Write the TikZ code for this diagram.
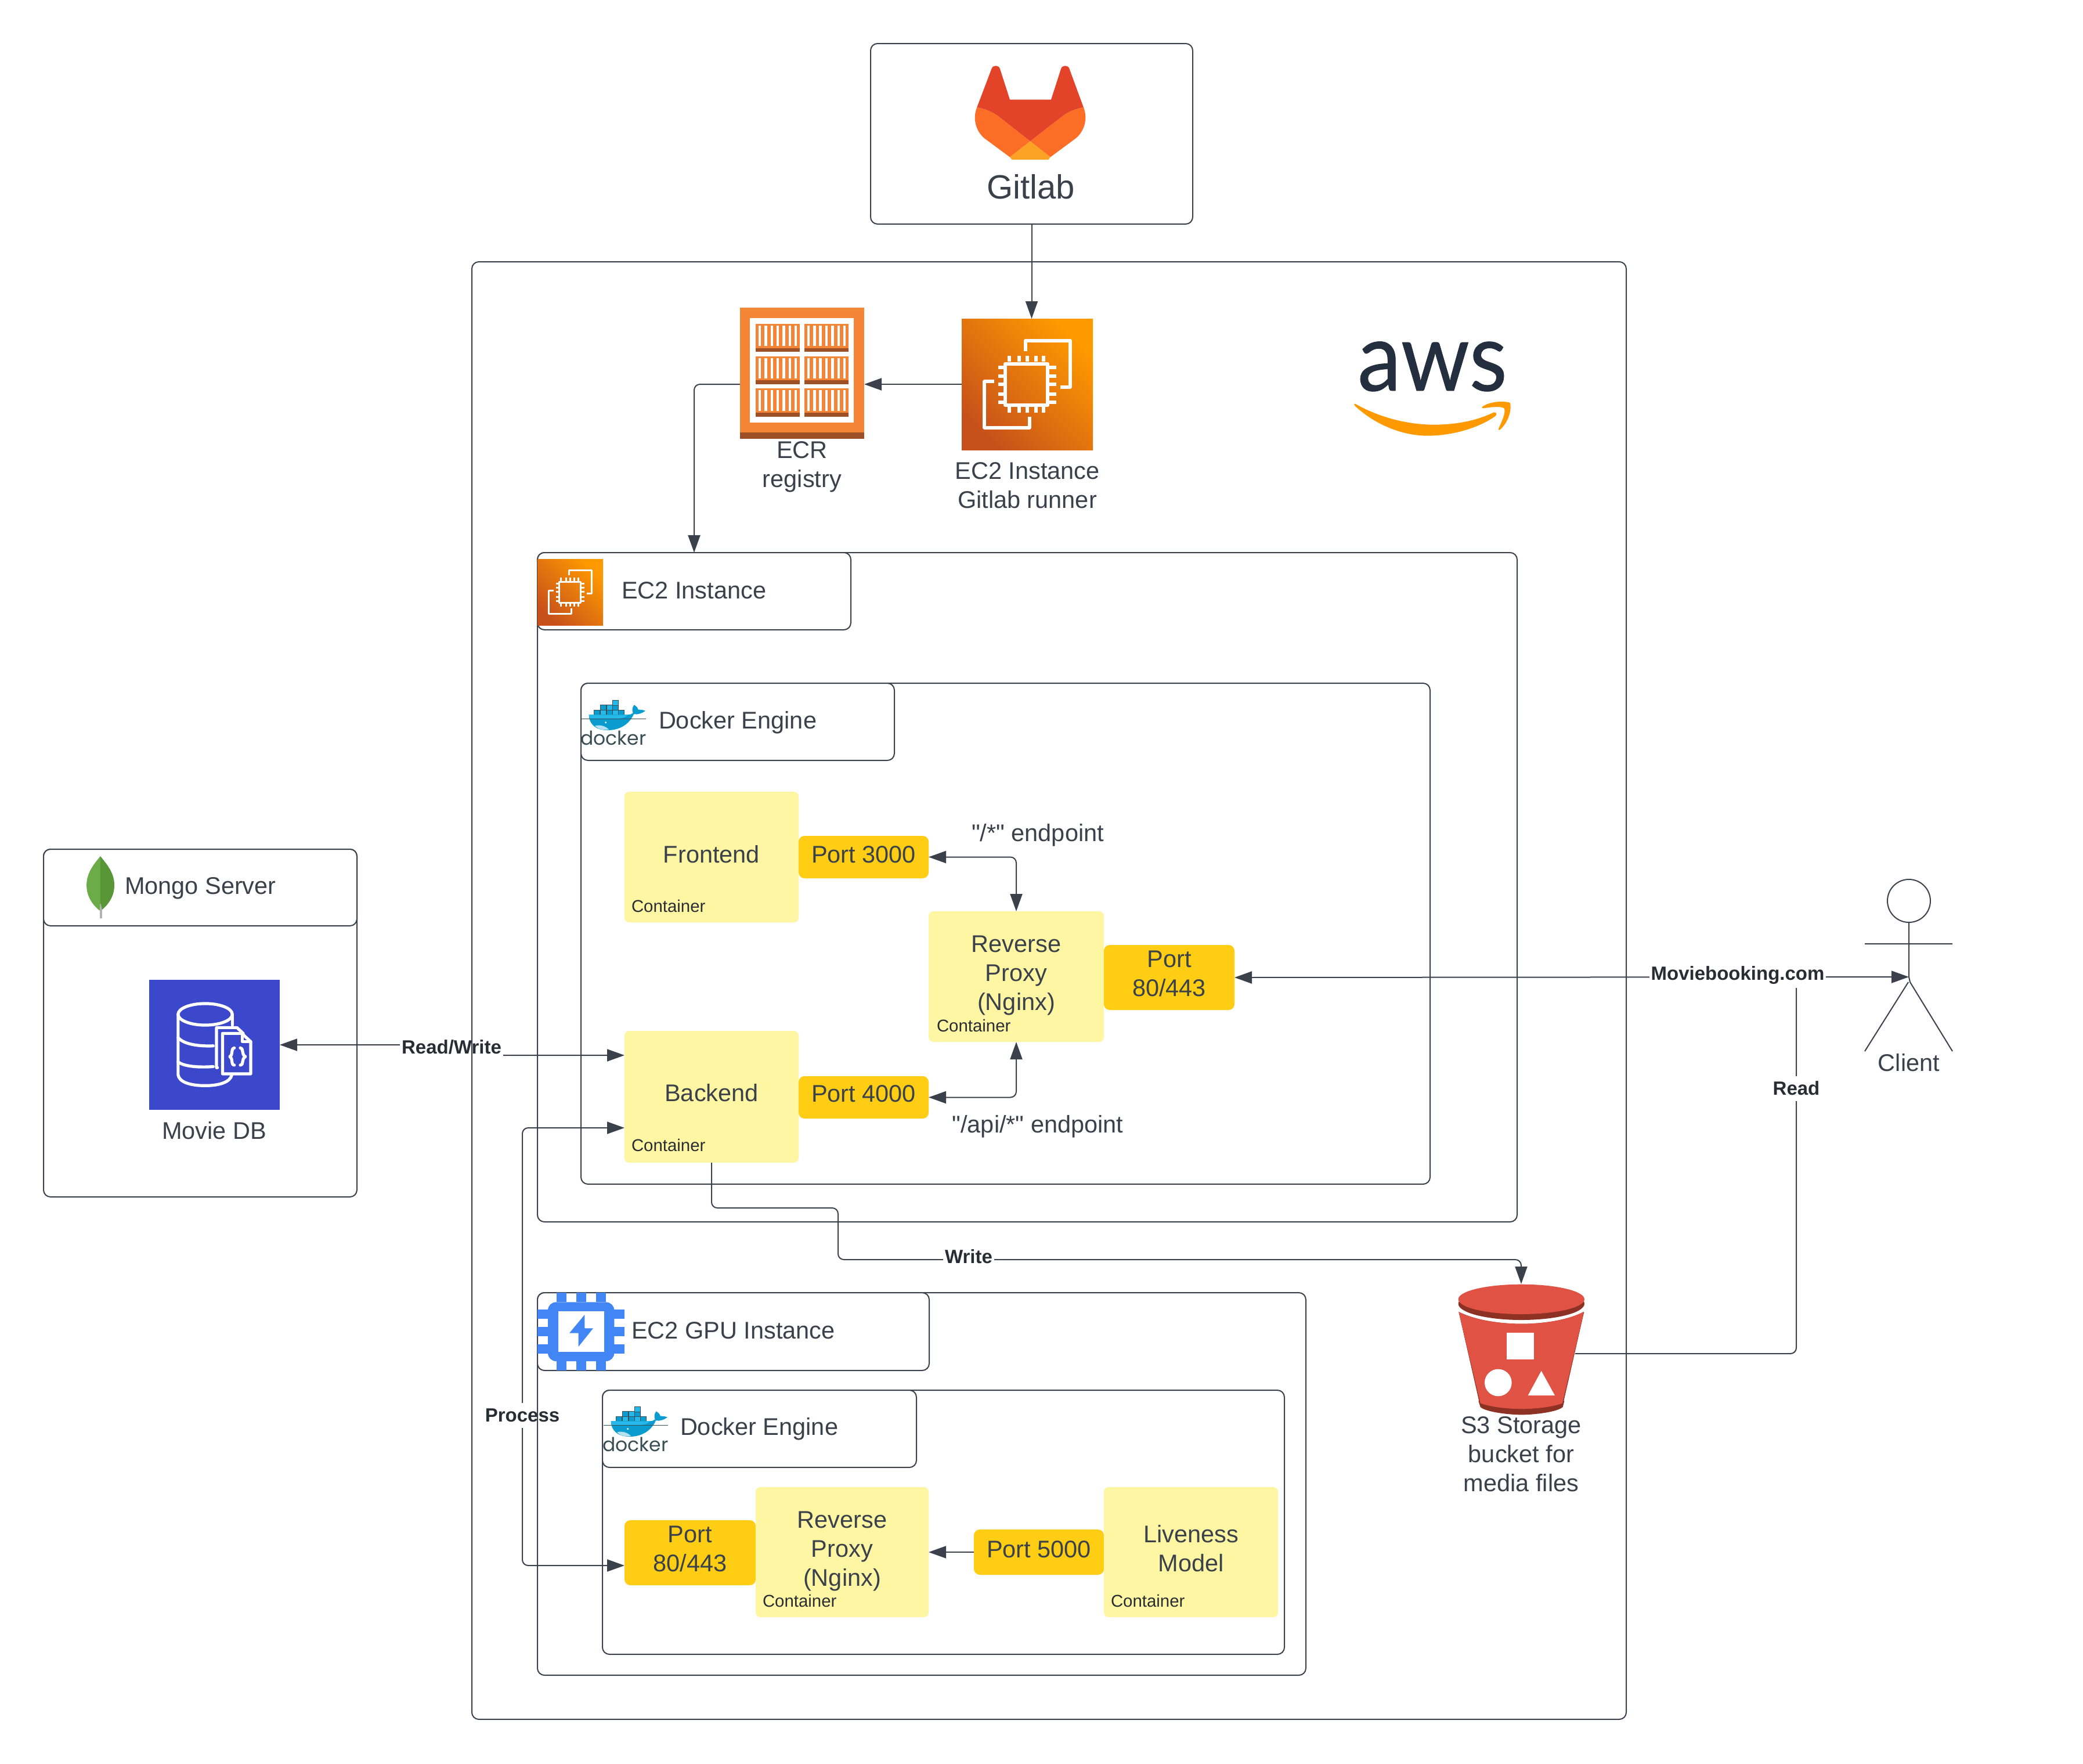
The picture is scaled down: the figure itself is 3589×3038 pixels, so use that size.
\documentclass[tikz,border=0pt]{standalone}
\usepackage{fontspec}
\setmainfont[Ligatures=TeXOff]{Liberation Sans}
\newfontfamily\latofont[FakeBold=0.5]{Lato}
\newfontfamily\popfont{Poppins}
\usetikzlibrary{arrows.meta,calc,shadings}
\definecolor{ink}{HTML}{3A414A}
\definecolor{sticky}{HTML}{FFF6A3}
\definecolor{portc}{HTML}{FFCE14}
\definecolor{labelink}{HTML}{282C33}
\definecolor{awsink}{HTML}{232F3E}
\definecolor{awsor}{HTML}{FF9900}
\definecolor{ecra}{HTML}{F58536}
\definecolor{ecrb}{HTML}{9D5025}
\definecolor{ecdark}{HTML}{C8511B}
\definecolor{glred}{HTML}{E24329}
\definecolor{glor}{HTML}{FC6D26}
\definecolor{glye}{HTML}{FCA326}
\definecolor{dbblue}{HTML}{3B48CC}
\definecolor{chipblue}{HTML}{4285F4}
\definecolor{sthree}{HTML}{E05243}
\definecolor{sthreed}{HTML}{8C3123}
\definecolor{dkink}{HTML}{394D54}
\definecolor{dka}{HTML}{24B8EB}
\definecolor{dkb}{HTML}{0A9CCF}
\definecolor{dkc}{HTML}{2AA5D8}
\definecolor{leafa}{HTML}{6CAC48}
\definecolor{leafb}{HTML}{589636}
\newcommand\txtfont{\fontsize{20.75}{25}\selectfont}
\newcommand\gitfont{\fontsize{29}{34}\selectfont}
\newcommand\tagfont{\fontsize{14.7}{18}\selectfont}
\newcommand\lblfont{\fontsize{16.5}{20}\selectfont\bfseries}
\tikzset{
  base/.style={inner sep=0pt,outer sep=0pt,rectangle},
  frame/.style={base,draw=ink,line width=1pt,rounded corners=6pt},
  headbox/.style={frame,fill=white},
  stickybox/.style={base,fill=sticky,rounded corners=4pt},
  portbox/.style={base,fill=portc,rounded corners=5pt},
  iconbox/.style={base},
  intxt/.style={inner sep=0pt,outer sep=0pt,text=ink,font=\txtfont,align=center},
  txt/.style={inner sep=0pt,outer sep=0pt,text=ink,font=\txtfont,align=center},
  tagtxt/.style={inner sep=0pt,outer sep=0pt,text=labelink,font=\tagfont,anchor=west},
  lbl/.style={inner xsep=1.5pt,inner ysep=0pt,minimum height=21.5pt,outer sep=0pt,fill=white,text=labelink,font=\lblfont},
  conn/.style={draw=ink,line width=1pt,rounded corners=5pt},
  onehead/.style={conn,-{Triangle[length=15pt,width=10.5pt]}},
  twohead/.style={conn,{Triangle[length=15pt,width=10.5pt]}-{Triangle[length=15pt,width=10.5pt]}},
}
\pgfdeclarelayer{under}
\pgfsetlayers{under,main}
\newcommand\bx[6]{\node[#1,minimum width={(#5-#3)*0.5pt},minimum height={(#6-#4)*0.5pt}] (#2) at ({(#3+#5)/2},{(#4+#6)/2}) {};}
\newcommand\bxt[8]{\bx{#1}{#2}{#3}{#4}{#5}{#6}\node[intxt,yshift=#8pt] (#2txt) at (#2) {#7};}
% EC2 icon: coordinates are those of a 506 x 678 grid
\newcommand\ecicon[5]{%
\begin{scope}[shift={(#1,#2)},xscale=#3/506,yscale=#4/678]
\shade[top color=awsor,bottom color=ecdark,shading angle=-45] (0,0) rectangle (506,678);
\begin{scope}[shift={(-934,-147)}]
\draw[white,line width=#5,line join=round] (1101,380) rectangle (1266,593);
\draw[white,line width=#5,line join=round] (1180,316) -- (1180,260) -- (1352,260) -- (1352,500) -- (1314,500);
\draw[white,line width=#5,line join=round] (1060,472) -- (1022,472) -- (1022,710) -- (1195,710) -- (1195,655);
\foreach \px in {1117,1155,1187,1220,1250}{\fill[white] (\px-7,338) rectangle (\px+7,370);\fill[white] (\px-7,603) rectangle (\px+7,632);}
\foreach \py in {398,443,485,537,580}{\fill[white] (1076,\py-9) rectangle (1095,\py+9);\fill[white] (1272,\py-9) rectangle (1298,\py+9);}
\end{scope}
\end{scope}}
% Docker logo: coordinates as a 3x grid, placed by the grid's origin
\newcommand\dockerlogo[2]{%
\begin{scope}[shift={(#1,#2)},scale=1/3]
\foreach \bxa/\bya/\bcol in {485/690/dkb,517/690/dka,549/690/dkb,580/690/dka,610/690/dkb,517/665/dkb,549/665/dka,580/665/dkb,580/641/dka}
  {\fill[\bcol,draw=dkink,line width=.4pt] (\bxa,\bya) rectangle ++(30,25);}
\fill[dkb] (458,715) .. controls (458,760) and (490,795) .. (555,795) .. controls (620,795) and (668,762) .. (690,712) .. controls (712,716) and (735,706) .. (750,695) .. controls (735,688) and (722,690) .. (712,688) .. controls (712,680) and (705,672) .. (692,664) .. controls (682,675) and (680,695) .. (686,706) .. controls (680,712) and (670,715) .. (660,715) -- cycle;
\fill[dka] (458,715) -- (660,715) .. controls (640,745) and (560,735) .. (462,735) -- cycle;
\fill[white!70!dkb] (490,772) .. controls (520,765) and (545,775) .. (562,792) .. controls (530,795) and (505,790) .. (490,772) -- cycle;
\fill[white] (545,755) circle (5);
\draw[dkink,line width=.5pt] (420,735) -- (752,735);
\node[inner sep=0pt,text=dkink] at (585,836) {\popfont\fontsize{16.5}{20}\selectfont docker};
\end{scope}}
\begin{document}
\begin{tikzpicture}[x=0.5pt,y=-0.5pt]
\useasboundingbox (0,0) rectangle (3589,3038);
\begin{pgfonlayer}{under}
\fill[white] (0,0) rectangle (3589,3038);
\end{pgfonlayer}

%% frames
\bx{frame}{aws}{813}{451}{2802}{2962}
\bx{frame}{ecouter}{926}{952}{2614}{2105}
\bx{frame}{dkouter}{1001}{1177}{2464}{2040}
\bx{frame}{gpuouter}{926}{2227}{2250}{2886}
\bx{frame}{dktwoouter}{1038}{2395}{2213}{2850}
\bx{frame}{mongo}{75}{1463}{615}{2062}
\bx{frame}{gitlab}{1500}{75}{2055}{386}
\bx{headbox}{echead}{926}{952}{1466}{1085}
\bx{headbox}{dkhead}{1001}{1177}{1541}{1310}
\bx{headbox}{gpuhead}{926}{2227}{1601}{2361}
\bx{headbox}{dktwohead}{1038}{2395}{1579}{2528}
\bx{headbox}{mongohead}{75}{1463}{615}{1595}

%% Gitlab logo
\begin{scope}[shift={(1480,50)},xscale=1/2.45,yscale=1/3]
\fill[glred] (498,405) -- (560,205) .. controls (565,185) and (590,185) .. (595,205) -- (637,365) -- (811,365) -- (853,205) .. controls (858,185) and (883,185) .. (888,205) -- (948,405) .. controls (915,412) and (885,428) .. (865,445) -- (723,580) -- (582,445) .. controls (560,428) and (530,412) .. (498,405) -- cycle;
\fill[glor] (498,405) .. controls (530,412) and (560,428) .. (582,445) -- (723,580) -- (637,662) -- (530,565) .. controls (495,530) and (478,465) .. (498,405) -- cycle;
\fill[glor] (948,405) .. controls (915,412) and (885,428) .. (865,445) -- (723,580) -- (808,662) -- (915,565) .. controls (950,530) and (968,465) .. (948,405) -- cycle;
\fill[glye] (723,580) -- (808,662) -- (800,675) -- (646,675) -- (637,662) -- cycle;
\end{scope}
\node[txt,font=\gitfont] (gitlabtxt) at (1776,322) {Gitlab};

%% AWS logo
\node[inner sep=0pt,text=awsink,anchor=base] (awstxt) at (2468,673) {\latofont\fontsize{82}{90}\selectfont\scalebox{0.92}[1]{aws}};
\begin{scope}[shift={(2280,530)},scale=1/3]
\fill[awsor] (165,497) .. controls (330,590) and (490,605) .. (570,605) .. controls (700,605) and (800,580) .. (880,542) .. controls (895,538) and (900,552) .. (890,560) .. controls (800,625) and (660,662) .. (540,662) .. controls (390,662) and (250,590) .. (162,506) .. controls (158,498) and (160,495) .. (165,497) -- cycle;
\fill[awsor] (822,512) .. controls (860,485) and (930,480) .. (966,492) .. controls (975,540) and (950,600) .. (912,632) .. controls (906,634) and (903,630) .. (906,625) .. controls (925,585) and (945,540) .. (935,520) .. controls (915,507) and (860,515) .. (828,520) .. controls (820,520) and (818,516) .. (822,512) -- cycle;
\end{scope}

%% ECR
\bx{iconbox}{ecr}{1275}{530}{1489}{756}
\begin{scope}[shift={(1240,500)},xscale=1/2.24,yscale=1/3]
\fill[ecra] (78,90) rectangle (558,735);
\fill[ecrb] (78,735) rectangle (558,767);
\fill[white] (116,144) rectangle (518,684);
\foreach \cx in {139,327}{\foreach \cy in {174,341,508}{
  \fill[ecra] (\cx,\cy) rectangle (\cx+170,\cy+125);
  \fill[ecrb] (\cx,\cy+125) rectangle (\cx+170,\cy+145);
  \foreach \sx in {11,34,57,80,104,127,150}{\fill[white] (\cx+\sx,\cy+9) rectangle (\cx+\sx+10,\cy+115);}
}}
\end{scope}
\node[txt] (ecrtxt) at (1382,804) {ECR\\registry};

%% EC2 runner
\bx{iconbox}{runner}{1657}{549}{1883}{775}
\ecicon{1657}{549}{226}{226}{3pt}
\node[txt] (runnertxt) at (1770,836) {EC2 Instance\\Gitlab runner};

%% EC2 instance head
\ecicon{926}{963}{113}{114}{1.5pt}
\node[txt,anchor=west] (ectxt) at (1071,1017) {EC2 Instance};

%% docker heads
\dockerlogo{862}{993}
\node[txt,anchor=west] (dktxt) at (1135,1245) {Docker Engine};
\dockerlogo{900}{2210}
\node[txt,anchor=west] (dktwotxt) at (1172,2462) {Docker Engine};

%% GPU chip
\begin{scope}[shift={(900,2210)},scale=1/3]
\fill[chipblue,rounded corners=7pt] (132,100) rectangle (475,405);
\foreach \px in {176,278,380}{\fill[chipblue] (\px,52) rectangle (\px+52,100);\fill[chipblue] (\px,405) rectangle (\px+52,452);}
\foreach \py in {138,228,318}{\fill[chipblue] (78,\py) rectangle (132,\py+47);\fill[chipblue] (475,\py) rectangle (528,\py+47);}
\fill[white] (186,147) rectangle (422,356);
\fill[chipblue] (322,165) -- (243,260) -- (290,260) -- (290,330) -- (366,235) -- (322,235) -- cycle;
\end{scope}
\node[txt,anchor=west] (gputxt) at (1088,2292) {EC2 GPU Instance};

%% Mongo head
\begin{scope}[shift={(60,1450)},xscale=1/2.613,yscale=1/2.8]
\fill[leafa] (295,70) .. controls (265,110) and (233,150) .. (233,210) .. controls (233,270) and (265,310) .. (295,335) -- cycle;
\fill[leafb] (295,70) .. controls (325,110) and (358,150) .. (358,210) .. controls (358,270) and (325,310) .. (295,335) -- cycle;
\fill[black!30] (293,300) -- (297,300) -- (303,330) -- (303,370) -- (293,370) -- cycle;
\end{scope}
\node[txt,anchor=west] (mongotxt) at (215,1530) {Mongo Server};

%% Movie DB
\bx{iconbox}{moviedb}{257}{1688}{482}{1912}
\begin{scope}[shift={(60,1450)},xscale=1/2.613,yscale=1/2.8]
\fill[dbblue] (515,665) rectangle (1103,1295);
\begin{scope}[white,line width=2.6pt,line join=round,line cap=round]
\draw (767,833) ellipse [x radius=122,y radius=52];
\draw (645,833) -- (645,1125) .. controls (650,1160) and (700,1177) .. (767,1177) .. controls (830,1177) and (880,1160) .. (887,1125);
\draw (889,833) -- (889,885);
\draw (645,945) .. controls (670,978) and (740,988) .. (803,985);
\draw (645,1062) .. controls (670,1085) and (740,1090) .. (803,1085);
\draw (822,1090) -- (818,1090) -- (818,897) -- (910,897) -- (938,925);
\draw (845,925) -- (932,925) -- (972,965) -- (972,1120) -- (845,1120) -- cycle;
\draw (935,925) -- (935,965) -- (972,965);
\draw (898,995) .. controls (880,1000) and (895,1025) .. (878,1037) .. controls (895,1050) and (880,1075) .. (898,1078);
\draw (925,995) .. controls (943,1000) and (928,1025) .. (948,1037) .. controls (928,1050) and (943,1075) .. (925,1078);
\end{scope}
\end{scope}
\node[txt] (moviedbtxt) at (369,1948) {Movie DB};

%% top Docker stack
\bxt{stickybox}{frontend}{1076}{1364}{1376}{1589}{Frontend}{2.3}
\bxt{portbox}{pthree}{1376}{1440}{1600}{1513}{Port 3000}{2.3}
\bxt{stickybox}{rp}{1600}{1570}{1902}{1795}{Reverse\\Proxy\\(Nginx)}{1}
\bxt{portbox}{peighty}{1902}{1628}{2127}{1740}{Port\\80/443}{3.4}
\bxt{stickybox}{backend}{1076}{1776}{1376}{2003}{Backend}{3.4}
\bxt{portbox}{pfour}{1376}{1854}{1600}{1927}{Port 4000}{3.4}
\node[tagtxt] (tfront) at (1088,1561) {Container};
\node[tagtxt] (trp) at (1614,1767) {Container};
\node[tagtxt] (tback) at (1088,1973) {Container};
\node[txt] (epa) at (1788,1439) {"/*" endpoint};
\node[txt] (epb) at (1788,1941) {"/api/*" endpoint};

%% bottom Docker stack
\bxt{portbox}{pbot}{1076}{2619}{1302}{2731}{Port\\80/443}{3.4}
\bxt{stickybox}{rptwo}{1302}{2562}{1600}{2786}{Reverse\\Proxy\\(Nginx)}{1}
\bxt{portbox}{pfive}{1678}{2635}{1902}{2713}{Port 5000}{2.3}
\bxt{stickybox}{live}{1902}{2562}{2202}{2786}{Liveness\\Model}{3}
\node[tagtxt] (trptwo) at (1314,2758) {Container};
\node[tagtxt] (tlive) at (1914,2758) {Container};

%% S3
\bx{iconbox}{sthreenode}{2513}{2212}{2730}{2437}
\begin{scope}[shift={(2460,2180)},scale=1/3]
\fill[sthreed] (262,700) -- (272,732) .. controls (300,758) and (420,772) .. (484,772) .. controls (550,772) and (670,758) .. (698,732) -- (706,700) -- cycle;
\fill[sthreed] (160,240) -- (266,705) -- (702,705) -- (808,240) .. controls (710,290) and (570,302) .. (484,302) .. controls (400,302) and (260,290) .. (160,240) -- cycle;
\fill[sthree] (160,240) -- (272,712) .. controls (320,732) and (420,742) .. (484,742) .. controls (550,742) and (650,732) .. (696,712) -- (802,262) -- (804,240) .. controls (710,290) and (570,302) .. (484,302) .. controls (400,302) and (260,290) .. (160,240) -- cycle;
\fill[sthreed] (484,198) ellipse [x radius=326,y radius=84];
\fill[sthree] (484,175) ellipse [x radius=326,y radius=77];
\fill[white] (407,348) rectangle (549,487);
\fill[white] (364,606) circle (70);
\fill[white] (587,545) -- (518,672) -- (657,672) -- cycle;
\end{scope}
\coordinate (sthreeright) at (2714,2332);
\coordinate (sthreetop) at (2621,2212);
\node[txt] (sthreetxt) at (2621,2505) {S3 Storage\\bucket for\\media files};

%% actor
\node[base,circle,draw=ink,line width=1pt,minimum size=37pt,fill=white] (actorhead) at (3289,1552) {};
\coordinate (armleft) at (3213,1626);
\coordinate (armright) at (3364,1626);
\coordinate (waist) at (3289,1683);
\coordinate (hipleft) at (3288,1692);
\coordinate (hipright) at (3291,1692);
\coordinate (legleft) at (3213,1811);
\coordinate (legright) at (3364,1811);
\draw[ink,line width=1pt] (actorhead.south) -- (waist) -- (hipright) -- (legright) (armleft) -- (armright) (legleft) -- (hipleft);
\node[txt] (clienttxt) at (3289,1831) {Client};

%% connector bend points
\coordinate (bkread) at (1076,1818);
\coordinate (rwa) at (780,1800);
\coordinate (rwb) at (780,1818);
\coordinate (bkproc) at (1076,1943);
\coordinate (pra) at (900,1943);
\coordinate (prb) at (900,2697);
\coordinate (pbotin) at (1076,2697);
\coordinate (wa) at (1444,2081);
\coordinate (wb) at (1444,2170);
\coordinate (readup) at (3095,1684);

\begin{pgfonlayer}{under}
\draw[onehead] (gitlab.south) -- (gitlab.south |- runner.north);
\draw[onehead] (runner.west) -- (runner.west -| ecr.east);
\draw[onehead] (runner.west -| ecr.west) -| (echead.north);
\draw[twohead] (pthree.east) -| (rp.north);
\draw[twohead] (pfour.east) -| (rp.south);
\draw[twohead] (peighty.east) -- (waist);
\draw[twohead] (moviedb.east) -- (rwa) -- (rwb) -- (bkread);
\draw[twohead] (bkproc) -- (pra) -- (prb) -- (pbotin);
\draw[onehead] (backend.south) |- (wa) -- (wb) -| (sthreetop);
\draw[onehead] (pfive.west) -- (rptwo.east);
\draw[conn] (sthreeright) -| (readup);
\node[lbl] (lblrw) at (778,1804) {Read/Write};
\node[lbl] (lblproc) at (900,2438) {Process};
\node[lbl] (lblwrite) at (1669,2165) {Write};
\node[lbl] (lblread) at (3095,1875) {Read};
\node[lbl] (lblmb) at (2994,1680) {Moviebooking.com};
\end{pgfonlayer}
\end{tikzpicture}
\end{document}
